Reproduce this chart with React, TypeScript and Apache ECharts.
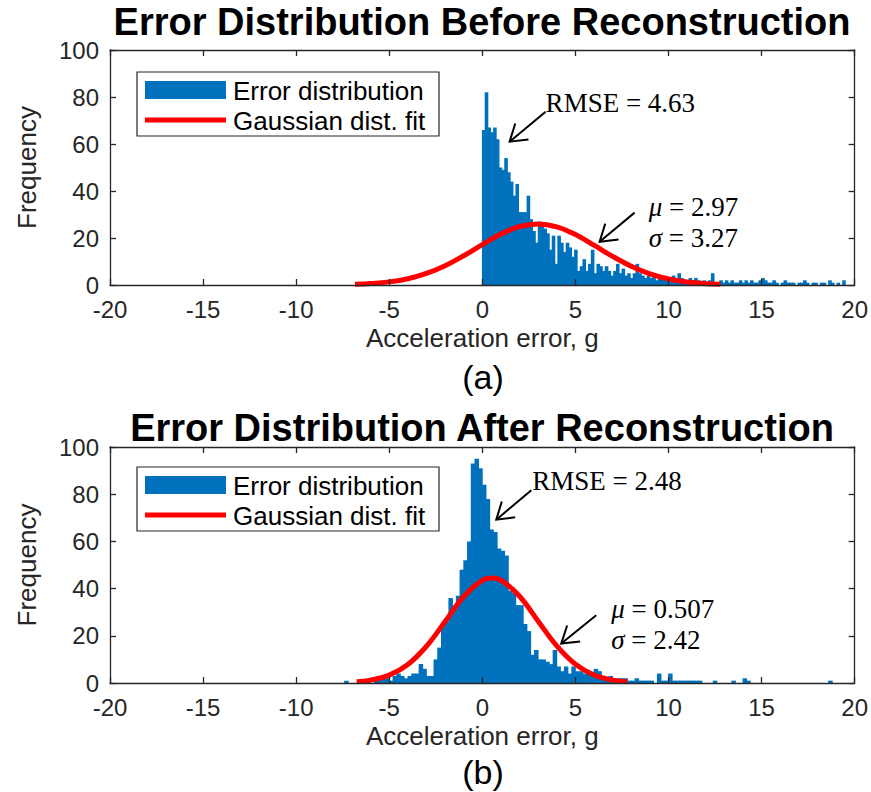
import React, { useEffect, useRef } from 'react';
import * as echarts from 'echarts';

// ---------------- data ----------------
const xTicksMin = -20;
const xTicksMax = 20;
const xTickStep = 5;
const yMin = 0;
const yMax = 100;
const yStep = 20;

const titleTop = 'Error Distribution Before Reconstruction';
const titleBottom = 'Error Distribution After Reconstruction';
const panelA = '(a)';
const panelB = '(b)';
const xName = 'Acceleration error, g';
const yName = 'Frequency';
const legendHist = 'Error distribution';
const legendFit = 'Gaussian dist. fit';

// before reconstruction: bins of 0.15 g starting at 0
const beforeBinStart = 0;
const beforeBinWidth = 0.15;
const beforeCounts = [
  66, 82, 67, 65, 67, 62, 50, 49, 54, 48, 44, 38, 43, 31, 31, 31, 38, 28, 23, 18,
  27, 26, 24, 22, 15, 21, 9, 21, 18, 14, 18, 16, 12, 15, 6, 8, 11, 6, 9, 15,
  5, 9, 8, 6, 8, 6, 4, 6, 9, 5, 7, 4, 5, 3, 5, 9, 5, 4, 3, 4,
  3, 4, 2, 3, 4, 3, 2, 3, 4, 2, 5, 3, 2, 2, 3, 2, 3, 2, 1, 2,
  1, 2, 5, 1, 1, 2, 1, 2, 1, 2, 1, 1, 2, 1, 2, 1, 2, 1, 1, 2,
  3, 2, 1, 1, 2, 1, 0, 1, 2, 1, 1, 1, 0, 1, 1, 2, 1, 0, 1, 1,
  0, 1, 1, 0, 2, 1, 0, 1, 0, 2,
];

// after reconstruction: bins of 0.2 g starting at -7.6
const afterBinStart = -7.6;
const afterBinWidth = 0.2;
const afterCounts = [
  0, 1, 0, 0, 0, 0, 0, 1, 0, 2, 2, 3, 2, 1, 3, 4, 3, 2, 3, 4,
  4, 8, 6, 3, 3, 10, 15, 24, 26, 36, 31, 37, 48, 52, 60, 93, 95, 91, 84, 78,
  65, 64, 57, 56, 54, 39, 38, 33, 33, 25, 22, 12, 14, 10, 10, 9, 8, 14, 7, 5,
  7, 4, 7, 5, 5, 4, 4, 4, 6, 5, 3, 2, 3, 2, 2, 2, 2, 1, 1, 2,
  1, 1, 1, 1, 0, 4, 1, 1, 4, 1, 1, 1, 1, 1, 1, 1, 1, 0, 0, 0,
  1, 0, 0, 0, 0, 1, 0, 0, 2, 1, 0, 0, 0, 0, 0, 0, 0, 0, 0, 0,
  0, 0, 0, 0, 0, 0, 0, 0, 0, 0, 0, 1, 0,
];

// Gaussian fit curves
const beforeFitX = [-6.84, -6, -5, -4, -3, -2, -1, 0, 1, 2, 2.97, 4, 5, 6, 7, 8, 9, 10, 11, 12, 12.78];
const beforeFitY = [0.29, 0.6, 1.33, 2.68, 4.91, 8.19, 12.44, 17.21, 21.68, 24.88, 26, 24.74, 21.44, 16.93, 12.17, 7.97, 4.75, 2.58, 1.28, 0.57, 0.29];
const afterFitX = [-6.75, -6, -5, -4, -3, -2, -1, 0, 0.507, 1, 2, 3, 4, 5, 6, 7, 7.77];
const afterFitY = [0.5, 1.2, 3.34, 7.85, 15.57, 26.02, 36.65, 43.53, 44.5, 43.59, 36.78, 26.17, 15.7, 7.93, 3.38, 1.22, 0.5];

// annotation texts
const beforeRmse = 'RMSE = 4.63';
const beforeMu = '2.97';
const beforeSigma = '3.27';
const afterRmse = 'RMSE = 2.48';
const afterMu = '0.507';
const afterSigma = '2.42';

// ---------------- styles ----------------
const AXIS = '#262626';
const BAR = '#0072BD';
const FIT = '#FF0000';
const SANS = '"Liberation Sans", Arial, Helvetica, sans-serif';
const SERIF = '"Liberation Serif", "Times New Roman", serif';

function makeXAxis(gridIndex: number, bottom: boolean) {
  return {
    type: 'value',
    gridIndex,
    position: bottom ? 'bottom' : 'top',
    min: xTicksMin,
    max: xTicksMax,
    interval: xTickStep,
    z: 5,
    name: bottom ? xName : '',
    nameLocation: 'middle',
    nameGap: 40,
    nameTextStyle: { fontFamily: SANS, fontSize: 26, color: AXIS },
    axisLine: { show: true, onZero: false, lineStyle: { color: AXIS, width: 1.3 } },
    axisTick: { show: true, inside: true, length: 6, lineStyle: { color: AXIS, width: 1.3 } },
    axisLabel: { show: bottom, fontFamily: SANS, fontSize: 24, color: AXIS, margin: 12 },
    splitLine: { show: false },
  };
}

function makeYAxis(gridIndex: number, left: boolean) {
  return {
    type: 'value',
    gridIndex,
    position: left ? 'left' : 'right',
    min: yMin,
    max: yMax,
    interval: yStep,
    z: 5,
    name: left ? yName : '',
    nameLocation: 'middle',
    nameGap: 70,
    nameTextStyle: { fontFamily: SANS, fontSize: 26, color: AXIS },
    axisLine: { show: true, onZero: false, lineStyle: { color: AXIS, width: 1.3 } },
    axisTick: { show: true, inside: true, length: 6, lineStyle: { color: AXIS, width: 1.3 } },
    axisLabel: { show: left, fontFamily: SANS, fontSize: 24, color: AXIS, margin: 11 },
    splitLine: { show: false },
  };
}

function histSeries(counts: number[], start: number, width: number, axisIdx: number) {
  return {
    type: 'custom',
    xAxisIndex: axisIdx,
    yAxisIndex: axisIdx,
    z: 2,
    silent: true,
    renderItem: (_params: any, api: any) => {
      const x0 = api.value(0);
      const x1 = api.value(1);
      const y = api.value(2);
      if (!y) return null;
      const p0 = api.coord([x0, y]);
      const p1 = api.coord([x1, 0]);
      return {
        type: 'rect',
        shape: { x: p0[0] - 0.4, y: p0[1], width: p1[0] - p0[0] + 0.8, height: p1[1] - p0[1] },
        style: { fill: BAR },
      };
    },
    encode: { x: [0, 1], y: 2 },
    data: counts.map((c, i) => [start + i * width, start + (i + 1) * width, c]),
  };
}

function fitSeries(xs: number[], ys: number[], axisIdx: number) {
  return {
    type: 'line',
    xAxisIndex: axisIdx,
    yAxisIndex: axisIdx,
    z: 3,
    silent: true,
    smooth: 0.4,
    showSymbol: false,
    symbol: 'none',
    lineStyle: { color: FIT, width: 5 },
    data: xs.map((x, i) => [x, ys[i]]),
  };
}

function arrow(tail: number[], head: number[]) {
  const dx = tail[0] - head[0];
  const dy = tail[1] - head[1];
  const len = Math.hypot(dx, dy);
  const ux = dx / len;
  const uy = dy / len;
  const L = 19;
  const a = (33 * Math.PI) / 180;
  const b1 = [head[0] + L * (ux * Math.cos(a) - uy * Math.sin(a)), head[1] + L * (ux * Math.sin(a) + uy * Math.cos(a))];
  const b2 = [head[0] + L * (ux * Math.cos(-a) - uy * Math.sin(-a)), head[1] + L * (ux * Math.sin(-a) + uy * Math.cos(-a))];
  return [
    { type: 'line', z: 20, shape: { x1: tail[0], y1: tail[1], x2: head[0], y2: head[1] }, style: { stroke: '#000', lineWidth: 2 } },
    { type: 'polyline', z: 20, shape: { points: [b1, head, b2] }, style: { stroke: '#000', lineWidth: 2, fill: null } },
  ];
}

function legend(x: number, y: number) {
  return [
    { type: 'rect', z: 30, shape: { x, y, width: 302, height: 64 }, style: { fill: '#fff', stroke: AXIS, lineWidth: 1.2 } },
    { type: 'rect', z: 31, shape: { x: x + 8, y: y + 9, width: 81, height: 18 }, style: { fill: BAR } },
    { type: 'line', z: 31, shape: { x1: x + 8, y1: y + 48, x2: x + 89, y2: y + 48 }, style: { stroke: FIT, lineWidth: 5 } },
    { type: 'text', z: 31, x: x + 96, y: y + 19, style: { text: legendHist, fontFamily: SANS, fontSize: 26, fill: '#000', verticalAlign: 'middle', align: 'left' } },
    { type: 'text', z: 31, x: x + 96, y: y + 49, style: { text: legendFit, fontFamily: SANS, fontSize: 26, fill: '#000', verticalAlign: 'middle', align: 'left' } },
  ];
}

function mathText(pos: number[], text: string) {
  return {
    type: 'text', z: 20, x: pos[0], y: pos[1],
    style: { text, fontFamily: SERIF, fontSize: 27, fill: '#000', verticalAlign: 'middle', align: 'left' },
  };
}

function greekText(pos: number[], sym: string, val: string) {
  return {
    type: 'text', z: 20, x: pos[0], y: pos[1],
    style: {
      text: `{g|${sym}} = ${val}`,
      fontFamily: SERIF, fontSize: 27, fill: '#000', verticalAlign: 'middle', align: 'left',
      rich: { g: { fontFamily: SERIF, fontSize: 27, fontStyle: 'italic', fill: '#000' } },
    },
  };
}

export default function App() {
  const ref = useRef<HTMLDivElement>(null);
  useEffect(() => {
    if (!ref.current) return;
    const chart = echarts.init(ref.current, undefined, { renderer: 'svg' });
    const option: any = {
      animation: false,
      backgroundColor: '#ffffff',
      title: [
        { text: titleTop, left: 482, top: 3, textAlign: 'center', padding: 0, textStyle: { fontFamily: SANS, fontSize: 38, fontWeight: 'bold', color: '#000' } },
        { text: titleBottom, left: 482, top: 409, textAlign: 'center', padding: 0, textStyle: { fontFamily: SANS, fontSize: 38, fontWeight: 'bold', color: '#000' } },
        { text: panelA, left: 483, top: 360, textAlign: 'center', padding: 0, textStyle: { fontFamily: SANS, fontSize: 34, fontWeight: 'normal', color: '#000' } },
        { text: panelB, left: 483, top: 755, textAlign: 'center', padding: 0, textStyle: { fontFamily: SANS, fontSize: 34, fontWeight: 'normal', color: '#000' } },
      ],
      grid: [
        { left: 110, top: 50, width: 745, height: 235 },
        { left: 110, top: 447, width: 745, height: 236 },
      ],
      xAxis: [makeXAxis(0, true), makeXAxis(0, false), makeXAxis(1, true), makeXAxis(1, false)],
      yAxis: [makeYAxis(0, true), makeYAxis(0, false), makeYAxis(1, true), makeYAxis(1, false)],
      series: [
        histSeries(beforeCounts, beforeBinStart, beforeBinWidth, 0),
        fitSeries(beforeFitX, beforeFitY, 0),
        histSeries(afterCounts, afterBinStart, afterBinWidth, 2),
        fitSeries(afterFitX, afterFitY, 2),
      ],
    };
    chart.setOption(option);

    const px = (g: number, p: number[]) => chart.convertToPixel({ gridIndex: g } as any, p) as number[];
    const graphics: any[] = [
      ...legend(137, 72),
      ...legend(137, 467),
      mathText(px(0, [3.4, 77.4]), beforeRmse),
      ...arrow(px(0, [3.4, 73.7]), px(0, [1.465, 61.0])),
      greekText(px(0, [8.94, 33.3]), 'μ', beforeMu),
      greekText(px(0, [8.94, 19.9]), 'σ', beforeSigma),
      ...arrow(px(0, [8.18, 30.8]), px(0, [6.3, 18.4])),
      mathText(px(1, [2.68, 85.6]), afterRmse),
      ...arrow(px(1, [2.63, 81.7]), px(1, [0.75, 69.2])),
      greekText(px(1, [6.92, 31.5]), 'μ', afterMu),
      greekText(px(1, [6.92, 18.1]), 'σ', afterSigma),
      ...arrow(px(1, [6.12, 28.7]), px(1, [4.24, 16.7])),
    ];
    chart.setOption({ graphic: graphics });
    return () => chart.dispose();
  }, []);
  return <div ref={ref} style={{ position: 'fixed', left: 0, top: 0, width: 871, height: 792 }} />;
}
